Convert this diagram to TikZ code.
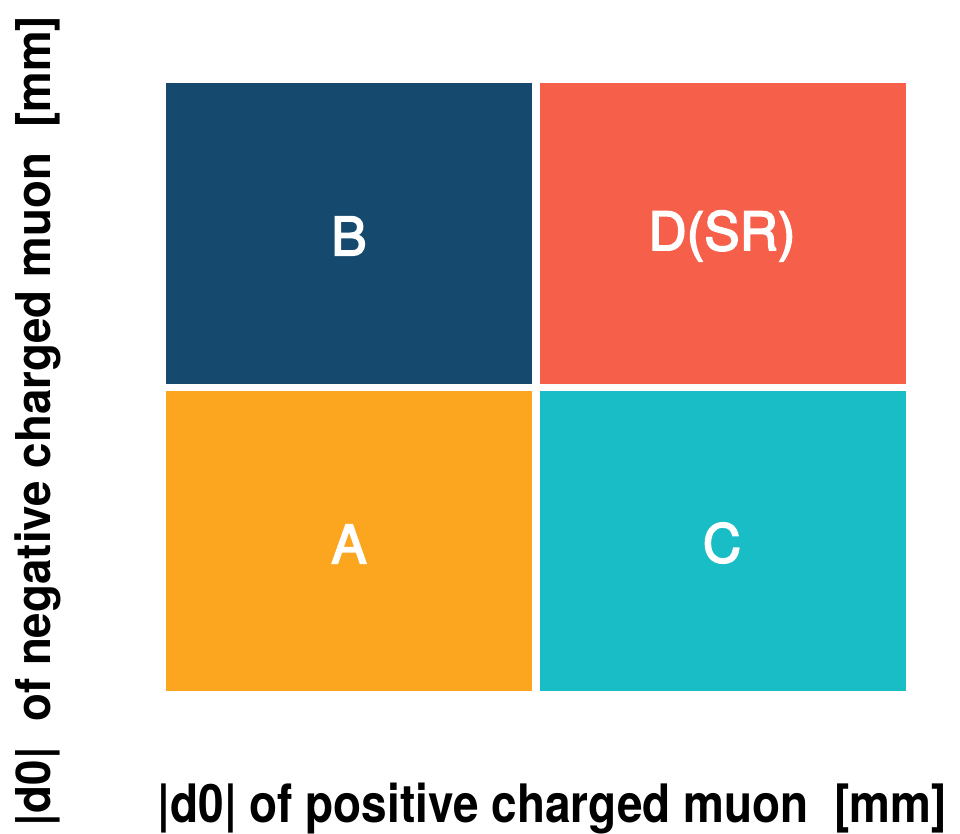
\documentclass[tikz,border=0pt]{standalone}
\usepackage{fontspec}
\setmainfont{TeX Gyre Heros}
\newfontfamily\regionfont[FakeBold=3]{TeX Gyre Heros}
\definecolor{cB}{HTML}{15496E}
\definecolor{cD}{HTML}{F6604A}
\definecolor{cA}{HTML}{FBA61E}
\definecolor{cC}{HTML}{18BDC5}
\begin{document}
\begin{tikzpicture}[x=1pt,y=-1pt,
  region/.style={fill=#1,draw=none},
  regionlabel/.style={text=white,font=\regionfont\fontsize{53}{53}\selectfont,inner sep=0pt},
  axislabel/.style={font=\bfseries\fontsize{#1}{#1}\selectfont,inner sep=0pt}]
\useasboundingbox (0,0) rectangle (960,834);
\fill[region=cB] (166,83) rectangle (532,384);
\fill[region=cD] (540,83) rectangle (906,384);
\fill[region=cA] (166,391) rectangle (532,691);
\fill[region=cC] (540,391) rectangle (906,691);
\node[regionlabel] (B) at (349,236) {B};
\node[regionlabel] (D) at (722,236) {D(SR)};
\node[regionlabel] (A) at (349,544) {A};
\node[regionlabel] (C) at (722,543) {C};
\node[axislabel=53,anchor=base] (xl) at (552,822) {\scalebox{0.867}[1]{|d0| of positive charged muon\ \ [mm]}};
\node[axislabel=48,anchor=base,rotate=90] (yl) at (50,421) {\scalebox{0.952}[1]{|d0|\ \ of negative charged muon\ \ [mm]}};
\end{tikzpicture}
\end{document}
